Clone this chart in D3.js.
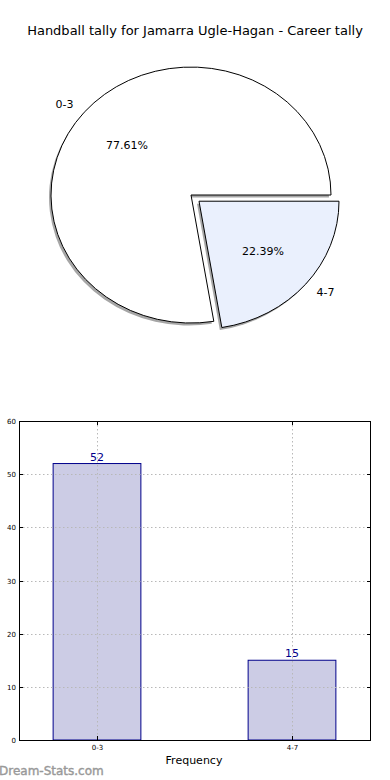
<!DOCTYPE html>
<html><head><meta charset="utf-8">
<script src="https://cdn.jsdelivr.net/npm/d3@7"></script>
<style>body{margin:0;background:#fff}svg{display:block;font-family:"DejaVu Sans",sans-serif}</style>
</head><body>
<script>
const title = "Handball tally for Jamarra Ugle-Hagan - Career tally";
const categories = ["0-3", "4-7"];
const values = [52, 15];
const sliceColors = ["#ffffff", "#eaf0fd"];
const explode = [0, 0.075];
const yTicks = [0, 10, 20, 30, 40, 50, 60];
const xLabel = "Frequency";
const watermark = "Dream-Stats.com";

const W = 390, H = 780;
const svg = d3.select("body").append("svg").attr("width", W).attr("height", H);

svg.append("text").attr("x", 195).attr("y", 35).attr("text-anchor", "middle")
  .attr("font-size", 13).attr("fill", "#000").text(title);

// ---- Pie ----
const cx = 191, cy = 195, rx = 140, ry = 128;
const total = d3.sum(values);
const pie = d3.pie().sort(null).value(d => d)
  .startAngle(Math.PI / 2).endAngle(Math.PI / 2 - 2 * Math.PI);
const arcs = pie(values);
const arc = d3.arc().innerRadius(0).outerRadius(1);
const slices = arcs.map((a, i) => {
  const mid = (a.startAngle + a.endAngle) / 2; // d3 angle
  const dx = Math.sin(mid), dy = -Math.cos(mid);
  return {a, i, dx, dy, ox: cx + explode[i] * rx * dx, oy: cy + explode[i] * ry * dy};
});
const pg = svg.append("g");
slices.forEach(s => {
  pg.append("path").attr("d", arc(s.a))
    .attr("transform", `translate(${s.ox - 2},${s.oy + 2.5}) scale(${rx},${ry})`)
    .attr("fill", "#4d4d4d").attr("opacity", 0.5);
});
slices.forEach(s => {
  pg.append("path").attr("d", arc(s.a))
    .attr("transform", `translate(${s.ox},${s.oy}) scale(${rx},${ry})`)
    .attr("fill", sliceColors[s.i]).attr("stroke", "#000").attr("stroke-width", 1)
    .attr("vector-effect", "non-scaling-stroke");
});
slices.forEach(s => {
  pg.append("text").attr("x", s.ox + 1.1 * rx * s.dx).attr("y", s.oy + 1.1 * ry * s.dy)
    .attr("dy", "0.35em").attr("text-anchor", s.dx < 0 ? "end" : "start")
    .attr("font-size", 11).text(categories[s.i]);
  pg.append("text").attr("x", s.ox + 0.6 * rx * s.dx).attr("y", s.oy + 0.6 * ry * s.dy)
    .attr("dy", "0.35em").attr("text-anchor", "middle")
    .attr("font-size", 11).text((values[s.i] / total * 100).toFixed(2) + "%");
});

// ---- Bar chart ----
const L = 19, R = 370, T = 421, B = 740;
const x = d3.scaleLinear().domain([-0.4, 1.4]).range([L, R]);
const y = d3.scaleLinear().domain([0, 60]).range([B, T]);
const bw = 0.45;
const bg = svg.append("g");
bg.selectAll("rect.bar").data(values).join("rect").attr("class", "bar")
  .attr("x", (d, i) => x(i - bw / 2)).attr("width", x(bw) - x(0))
  .attr("y", d => y(d)).attr("height", d => y(0) - y(d))
  .attr("fill", "#ccccE5").attr("stroke", "#00008b").attr("stroke-width", 1);
// grid
const gridStyle = sel => sel.attr("stroke", "#b8b8b8").attr("stroke-width", 1).attr("stroke-dasharray", "1.5,2.5");
bg.selectAll("line.gy").data(yTicks).join("line").attr("class", "gy")
  .attr("x1", L).attr("x2", R).attr("y1", d => Math.round(y(d)) + 0.5).attr("y2", d => Math.round(y(d)) + 0.5).call(gridStyle);
bg.selectAll("line.gx").data(categories).join("line").attr("class", "gx")
  .attr("x1", (d, i) => Math.round(x(i)) + 0.5).attr("x2", (d, i) => Math.round(x(i)) + 0.5)
  .attr("y1", T).attr("y2", B).call(gridStyle);
// value labels
bg.selectAll("text.val").data(values).join("text").attr("class", "val")
  .attr("x", (d, i) => x(i)).attr("y", d => y(d) - 3).attr("text-anchor", "middle")
  .attr("font-size", 11).attr("fill", "#00008b").text(d => d);
// axes frame
bg.append("rect").attr("x", L + 0.5).attr("y", T + 0.5).attr("width", R - L).attr("height", B - T)
  .attr("fill", "none").attr("stroke", "#000").attr("stroke-width", 1);
// y ticks (inside, both sides)
yTicks.forEach(t => {
  const yy = Math.round(y(t)) + 0.5;
  bg.append("line").attr("x1", L).attr("x2", L + 4).attr("y1", yy).attr("y2", yy).attr("stroke", "#000");
  bg.append("line").attr("x1", R - 3).attr("x2", R + 1).attr("y1", yy).attr("y2", yy).attr("stroke", "#000");
  bg.append("text").attr("x", L - 3).attr("y", yy).attr("dy", "0.35em").attr("text-anchor", "end")
    .attr("font-size", 7).attr("fill", "#000").text(t);
});
categories.forEach((c, i) => {
  const xx = Math.round(x(i)) + 0.5;
  bg.append("line").attr("x1", xx).attr("x2", xx).attr("y1", B).attr("y2", B - 4).attr("stroke", "#000");
  bg.append("line").attr("x1", xx).attr("x2", xx).attr("y1", T).attr("y2", T + 4).attr("stroke", "#000");
  bg.append("text").attr("x", xx).attr("y", B + 10).attr("text-anchor", "middle")
    .attr("font-size", 7).attr("fill", "#000").text(c);
});
svg.append("text").attr("x", 194).attr("y", 764).attr("text-anchor", "middle")
  .attr("font-size", 11).attr("fill", "#000").text(xLabel);
svg.append("text").attr("x", -1).attr("y", 775).attr("font-size", 12)
  .attr("fill", "#999").attr("stroke", "#999").attr("stroke-width", 0.4).text(watermark);
</script>
</body></html>
